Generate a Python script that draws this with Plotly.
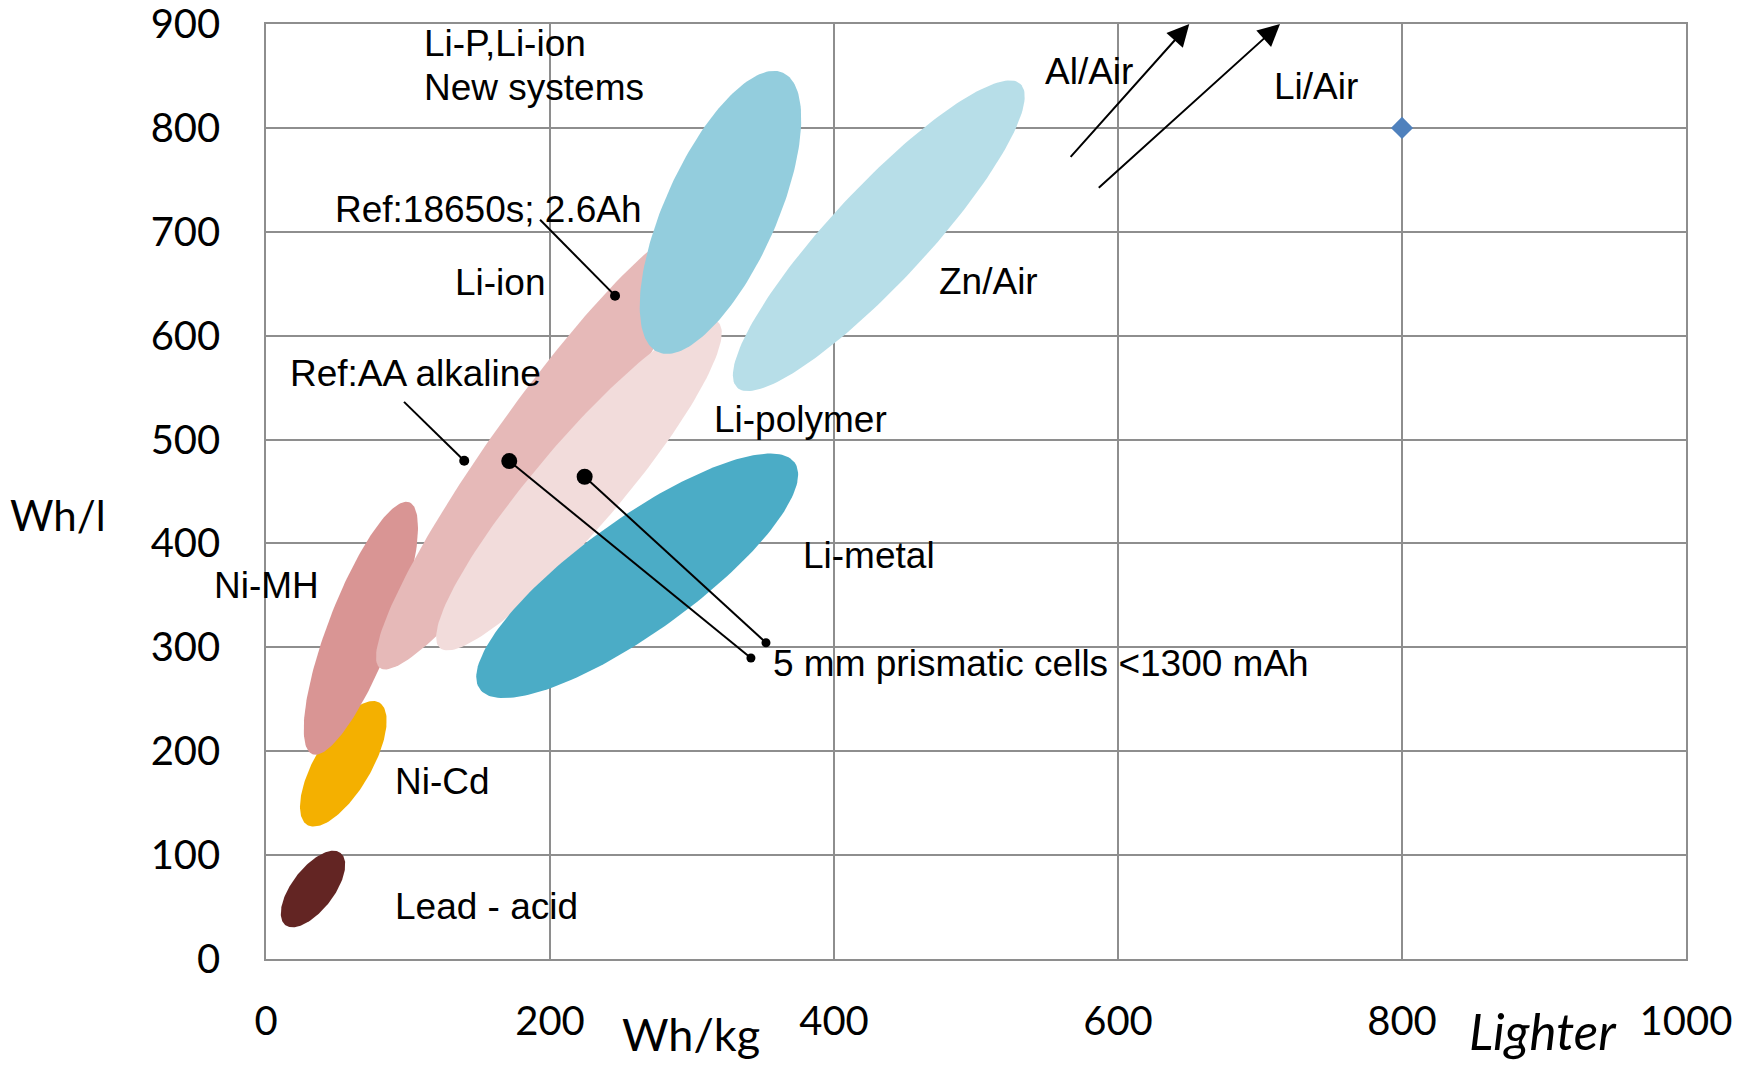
import numpy as np
import plotly.graph_objects as go

# ---------------- data ----------------
systems = ["Lead - acid", "Ni-Cd", "Ni-MH", "Li-ion", "Li-polymer",
           "Li-P,Li-ion New systems", "Zn/Air", "Li-metal"]
# ends of each region's long axis (Wh/kg, Wh/l)
whkg_low = [13.7, 29.1, 32.7, 80.3, 122.5, 276.0, 331.8, 150.5]
whl_low = [32.6, 129.0, 197.1, 280.1, 299.3, 584.2, 550.0, 259.9]
whkg_high = [52.5, 79.8, 100.9, 302.1, 318.3, 364.1, 531.3, 372.3]
whl_high = [102.1, 246.8, 439.6, 703.6, 613.1, 853.1, 842.3, 477.8]
half_thickness_px = [21, 28, 32.5, 44, 43, 56, 48, 57]
colors = ["#632523", "#F4B000", "#D99594", "#E6B9B8", "#F2DCDB",
          "#93CDDD", "#B7DEE8", "#4BACC6"]

# reference cells (Wh/kg, Wh/l)
ref_names = ["Ref:18650s; 2.6Ah", "Ref:AA alkaline"]
ref_whkg = [245.8, 139.6]
ref_whl = [638.5, 479.6]
ref_label_whkg = [193.0, 97.2]
ref_label_whl = [711.6, 536.3]

# 5 mm prismatic cells <1300 mAh
prism_whkg = [171.3, 224.4]
prism_whl = [479.3, 464.2]
prism_label_whkg = [341.5, 352.1]
prism_label_whl = [289.7, 304.4]

# metal/air arrows
air_names = ["Al/Air", "Li/Air"]
air_from_whkg = [565.7, 585.4]
air_from_whl = [770.6, 741.1]
air_to_whkg = [650.2, 714.1]
air_to_whl = [900, 900]

target_whkg = [800]
target_whl = [800]

x_ticks = [0, 200, 400, 600, 800, 1000]
y_ticks = [0, 100, 200, 300, 400, 500, 600, 700, 800, 900]

# ---------------- layout geometry ----------------
W, H = 1750, 1065
ML, MR, MT, MB = 266, 64, 24, 106
XR = [0, 1000]
YR = [0, 900]
PW, PH = W - ML - MR, H - MT - MB
sx = PW / (XR[1] - XR[0])
sy = PH / (YR[1] - YR[0])

fig = go.Figure()

t = np.linspace(0, 2 * np.pi, 181)
for i, name in enumerate(systems):
    x1, y1 = whkg_low[i] * sx, whl_low[i] * sy
    x2, y2 = whkg_high[i] * sx, whl_high[i] * sy
    cx, cy = (x1 + x2) / 2, (y1 + y2) / 2
    a = np.hypot(x2 - x1, y2 - y1) / 2
    ux, uy = (x2 - x1) / (2 * a), (y2 - y1) / (2 * a)
    nx, ny = -uy, ux
    b = half_thickness_px[i]
    px = cx + a * np.cos(t) * ux + b * np.sin(t) * nx
    py = cy + a * np.cos(t) * uy + b * np.sin(t) * ny
    fig.add_trace(go.Scatter(x=px / sx, y=py / sy, mode="lines", fill="toself",
                             fillcolor=colors[i], line=dict(width=0, color=colors[i]),
                             name=name, hoverinfo="name", showlegend=False))

# leader lines
for i in range(len(ref_names)):
    fig.add_trace(go.Scatter(x=[ref_label_whkg[i], ref_whkg[i]], y=[ref_label_whl[i], ref_whl[i]],
                             mode="lines", line=dict(color="black", width=2),
                             showlegend=False, hoverinfo="skip"))
for i in range(len(prism_whkg)):
    fig.add_trace(go.Scatter(x=[prism_whkg[i], prism_label_whkg[i]], y=[prism_whl[i], prism_label_whl[i]],
                             mode="lines", line=dict(color="black", width=2),
                             showlegend=False, hoverinfo="skip"))
fig.add_trace(go.Scatter(x=ref_whkg, y=ref_whl, mode="markers",
                         marker=dict(color="black", size=10), showlegend=False))
fig.add_trace(go.Scatter(x=prism_whkg, y=prism_whl, mode="markers",
                         marker=dict(color="black", size=16), showlegend=False))
fig.add_trace(go.Scatter(x=prism_label_whkg, y=prism_label_whl, mode="markers",
                         marker=dict(color="black", size=9), showlegend=False))
fig.add_trace(go.Scatter(x=target_whkg, y=target_whl, mode="markers",
                         marker=dict(color="#4F81BD", size=17, symbol="diamond"),
                         showlegend=False, cliponaxis=False))

annotations = []
for i in range(len(air_names)):
    annotations.append(dict(x=air_to_whkg[i], y=air_to_whl[i], ax=air_from_whkg[i], ay=air_from_whl[i],
                            xref="x", yref="y", axref="x", ayref="y", text="", showarrow=True,
                            arrowhead=2, arrowsize=2.2, arrowwidth=2, arrowcolor="black", standoff=0))

TF = dict(family="Liberation Sans, Arial, sans-serif", size=37, color="black")
labels = [
    ("Li-P,Li-ion", 110.0, 881.6),
    ("New systems", 110.0, 838.8),
    ("Ref:18650s; 2.6Ah", 46.9, 721.8),
    ("Li-ion", 131.9, 651.1),
    ("Ref:AA alkaline", 15.7, 564.0),
    ("Li-polymer", 313.9, 519.7),
    ("Li-metal", 376.6, 388.8),
    ("Ni-Cd", 89.6, 170.6),
    ("Lead - acid", 89.6, 50.3),
    ("Zn/Air", 472.7, 651.9),
    ("Al/Air", 547.4, 854.0),
    ("Li/Air", 708.2, 840.2),
    ("5 mm prismatic cells <1300 mAh", 355.4, 284.9),
]
for txt, x, y in labels:
    annotations.append(dict(x=x, y=y, xref="x", yref="y", text=txt, showarrow=False,
                            xanchor="left", yanchor="middle", font=TF))
# label left of the axis (paper coordinates so it is not hidden)
annotations.append(dict(x=(212 - ML) / PW, y=(H - MB - 585.5) / PH, xref="paper", yref="paper",
                        text="Ni-MH", showarrow=False, xanchor="left", yanchor="middle", font=TF))

AF = dict(family="Lato, sans-serif", color="black")
annotations.append(dict(x=(8 - ML) / PW, y=(H - MB - 515) / PH, xref="paper", yref="paper",
                        text="Wh/l", showarrow=False, xanchor="left", yanchor="middle",
                        font=dict(size=42, **AF)))
annotations.append(dict(x=(620 - ML) / PW, y=(H - MB - 1034) / PH, xref="paper", yref="paper",
                        text="Wh/kg", showarrow=False, xanchor="left", yanchor="middle",
                        font=dict(size=45, **AF)))
annotations.append(dict(x=(1467 - ML) / PW, y=(H - MB - 1030) / PH, xref="paper", yref="paper",
                        text="<i>Lighter</i>", showarrow=False, xanchor="left", yanchor="middle",
                        font=dict(size=51, **AF)))

grid = "#8E8E8E"
fig.update_layout(
    width=W, height=H,
    margin=dict(l=ML, r=MR, t=MT, b=MB, pad=0, autoexpand=False),
    paper_bgcolor="white", plot_bgcolor="white",
    showlegend=False,
    annotations=annotations,
    xaxis=dict(range=XR, tickvals=x_ticks, ticktext=[str(v) for v in x_ticks],
               showgrid=True, gridcolor=grid, gridwidth=1.5, automargin=False,
               showline=True, linecolor=grid, linewidth=1.5, mirror=True,
               zeroline=False, ticks="", ticklabelstandoff=26, ticklabeloverflow="allow",
               tickfont=dict(family="Lato, sans-serif", size=40, color="black")),
    yaxis=dict(range=YR, tickvals=y_ticks, ticktext=[str(v) for v in y_ticks],
               showgrid=True, gridcolor=grid, gridwidth=1.5, automargin=False,
               showline=True, linecolor=grid, linewidth=1.5, mirror=True,
               zeroline=False, ticks="", ticklabelstandoff=36, ticklabeloverflow="allow",
               tickfont=dict(family="Lato, sans-serif", size=40, color="black")),
)

fig.write_html("out.html")
